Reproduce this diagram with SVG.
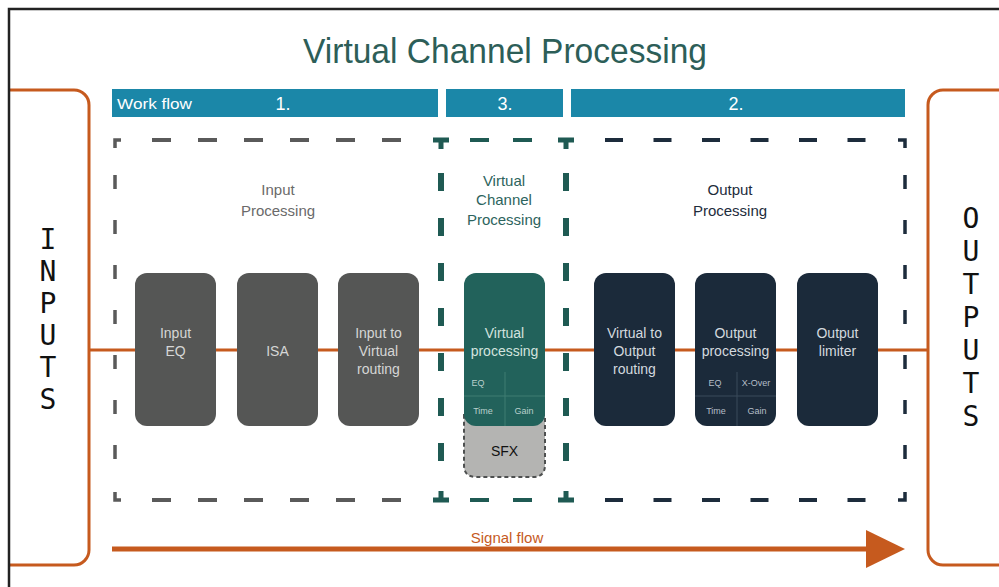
<svg xmlns="http://www.w3.org/2000/svg" width="999" height="587" viewBox="0 0 999 587">
<style>
  text { font-family: "Liberation Sans", Arial, sans-serif; }
  .io { fill: none; stroke: #c65a1e; stroke-width: 3; }
  .big { font-family: "DejaVu Sans Mono", "Liberation Mono", monospace; font-size: 28px; fill: #111; text-anchor: middle; }
  .bar { fill: #1b87a8; }
  .barT { fill: #ffffff; font-size: 18px; text-anchor: middle; }
  .gbox { fill: #555655; }
  .tbox { fill: #22625b; }
  .nbox { fill: #1b2a3a; }
  .gt { fill: #d6d6d6; font-size: 14px; text-anchor: middle; }
  .tt { fill: #d3e3df; font-size: 14px; text-anchor: middle; }
  .nt { fill: #d3d9df; font-size: 14px; text-anchor: middle; }
  .small { font-size: 9px; text-anchor: middle; }
  .grid { stroke-width: 1; fill: none; }
  .sec { font-size: 15px; text-anchor: middle; }
  .dg { stroke: #5a5a5a; fill: none; }
  .dt { stroke: #1f5a53; fill: none; }
  .dn { stroke: #1d2c3c; fill: none; }
</style>

<rect x="0" y="0" width="999" height="587" fill="#ffffff"/>

<!-- title -->
<text x="505" y="63" font-size="35" fill="#2d5e58" text-anchor="middle" textLength="404" lengthAdjust="spacingAndGlyphs">Virtual Channel Processing</text>

<!-- INPUTS / OUTPUTS -->
<g id="inputs">
  <rect class="io" x="-20" y="90" width="109" height="475" rx="15"/>
  <text class="big" x="48" y="249">I</text>
  <text class="big" x="48" y="281">N</text>
  <text class="big" x="48" y="313">P</text>
  <text class="big" x="48" y="345">U</text>
  <text class="big" x="48" y="377">T</text>
  <text class="big" x="48" y="409">S</text>
</g>
<g id="outputs">
  <rect class="io" x="928" y="90" width="100" height="475" rx="15"/>
  <text class="big" x="971" y="228">O</text>
  <text class="big" x="971" y="261">U</text>
  <text class="big" x="971" y="294">T</text>
  <text class="big" x="971" y="327">P</text>
  <text class="big" x="971" y="360">U</text>
  <text class="big" x="971" y="393">T</text>
  <text class="big" x="971" y="426">S</text>
</g>

<!-- frame -->
<rect x="0" y="0" width="8" height="587" fill="#ffffff"/>
<path d="M9,587 V9 H999" fill="none" stroke="#222" stroke-width="2.5"/>

<!-- work flow bars -->
<g id="workflow">
  <rect class="bar" x="112" y="89" width="326" height="28"/>
  <rect class="bar" x="446" y="89" width="117" height="28"/>
  <rect class="bar" x="571" y="89" width="334" height="28"/>
  <text x="117" y="109" font-size="15" fill="#fff" textLength="75" lengthAdjust="spacingAndGlyphs">Work flow</text>
  <text class="barT" x="283" y="110">1.</text>
  <text class="barT" x="505" y="110">3.</text>
  <text class="barT" x="736" y="110">2.</text>
</g>

<!-- dashed section frames -->
<g id="sections">
  <g class="dg" stroke-width="4">
    <path d="M152,140 H402 M152,500 H402" stroke-dasharray="19 27"/>
    <path d="M115,175 V470" stroke-dasharray="14 31" stroke-width="3.5"/>
    <path d="M121,140 H115 V148 M121,500 H115 V492" stroke-width="3.5"/>
  </g>
  <g class="dt" stroke-width="4">
    <path d="M470,140 H489 M513,140 H532 M470,500 H489 M513,500 H532"/>
    <path d="M441,173 V470 M566,173 V470" stroke-dasharray="18 27" stroke-width="6"/>
    <path d="M433,140 H449 M441,140 V149 M558,140 H574 M566,140 V149" stroke-width="5"/>
    <path d="M433,500 H449 M441,500 V491 M558,500 H574 M566,500 V491" stroke-width="5"/>
  </g>
  <g class="dn" stroke-width="4">
    <path d="M605,140 H870 M605,500 H870" stroke-dasharray="18 30.5"/>
    <path d="M905,175 V470" stroke-dasharray="14 31" stroke-width="3.5"/>
    <path d="M898,140 H905 V148 M898,500 H905 V492" stroke-width="3.5"/>
  </g>
  <text class="sec" x="278" y="195" fill="#6a6a6a">Input</text>
  <text class="sec" x="278" y="216" fill="#6a6a6a">Processing</text>
  <text class="sec" x="504" y="186" fill="#2d645d">Virtual</text>
  <text class="sec" x="504" y="205" fill="#2d645d">Channel</text>
  <text class="sec" x="504" y="225" fill="#2d645d">Processing</text>
  <text class="sec" x="730" y="195" fill="#1d2c3c">Output</text>
  <text class="sec" x="730" y="216" fill="#1d2c3c">Processing</text>
</g>

<!-- connectors -->
<g id="connectors">
  <line x1="89" y1="350" x2="928" y2="350" stroke="#c65a1e" stroke-width="3"/>
  <line x1="112" y1="549" x2="872" y2="549" stroke="#c65a1e" stroke-width="5"/>
  <polygon points="866,530 905,549 866,568" fill="#c65a1e"/>
  <text x="507" y="543" font-size="15" fill="#c65a1e" text-anchor="middle">Signal flow</text>
</g>

<!-- input processing nodes -->
<g id="input-eq">
  <rect class="gbox" x="135" y="273" width="81" height="153" rx="12"/>
  <text class="gt" x="175.5" y="338">Input</text>
  <text class="gt" x="175.5" y="356">EQ</text>
</g>
<g id="isa">
  <rect class="gbox" x="237" y="273" width="81" height="153" rx="12"/>
  <text class="gt" x="277.5" y="356">ISA</text>
</g>
<g id="input-to-virtual">
  <rect class="gbox" x="338" y="273" width="81" height="153" rx="12"/>
  <text class="gt" x="378.5" y="338">Input to</text>
  <text class="gt" x="378.5" y="356">Virtual</text>
  <text class="gt" x="378.5" y="374">routing</text>
</g>

<!-- virtual processing -->
<g id="sfx">
  <path d="M464,415 H545 V465 Q545,477 533,477 H476 Q464,477 464,465 Z" fill="#b4b4b2" stroke="#4e5050" stroke-width="2" stroke-dasharray="4 3"/>
  <text x="504.5" y="456" font-size="14" fill="#111" text-anchor="middle">SFX</text>
</g>
<g id="virtual-processing">
  <rect class="tbox" x="464" y="273" width="81" height="153" rx="12"/>
  <text class="tt" x="504.5" y="338">Virtual</text>
  <text class="tt" x="504.5" y="356">processing</text>
  <path class="grid" stroke="#3e7c73" d="M464,396 H545 M505,372 V426"/>
  <text class="small" x="478" y="386" fill="#b9d0cc">EQ</text>
  <text class="small" x="483" y="414" fill="#b9d0cc">Time</text>
  <text class="small" x="524" y="414" fill="#b9d0cc">Gain</text>
</g>

<!-- output processing nodes -->
<g id="virtual-to-output">
  <rect class="nbox" x="594" y="273" width="81" height="153" rx="12"/>
  <text class="nt" x="634.5" y="338">Virtual to</text>
  <text class="nt" x="634.5" y="356">Output</text>
  <text class="nt" x="634.5" y="374">routing</text>
</g>
<g id="output-processing">
  <rect class="nbox" x="695" y="273" width="81" height="153" rx="12"/>
  <text class="nt" x="735.5" y="338">Output</text>
  <text class="nt" x="735.5" y="356">processing</text>
  <path class="grid" stroke="#3a4a5a" d="M695,396 H776 M737,372 V426"/>
  <text class="small" x="715" y="386" fill="#b5bec8">EQ</text>
  <text class="small" x="756" y="386" fill="#b5bec8">X-Over</text>
  <text class="small" x="716" y="414" fill="#b5bec8">Time</text>
  <text class="small" x="757" y="414" fill="#b5bec8">Gain</text>
</g>
<g id="output-limiter">
  <rect class="nbox" x="797" y="273" width="81" height="153" rx="12"/>
  <text class="nt" x="837.5" y="338">Output</text>
  <text class="nt" x="837.5" y="356">limiter</text>
</g>
</svg>
